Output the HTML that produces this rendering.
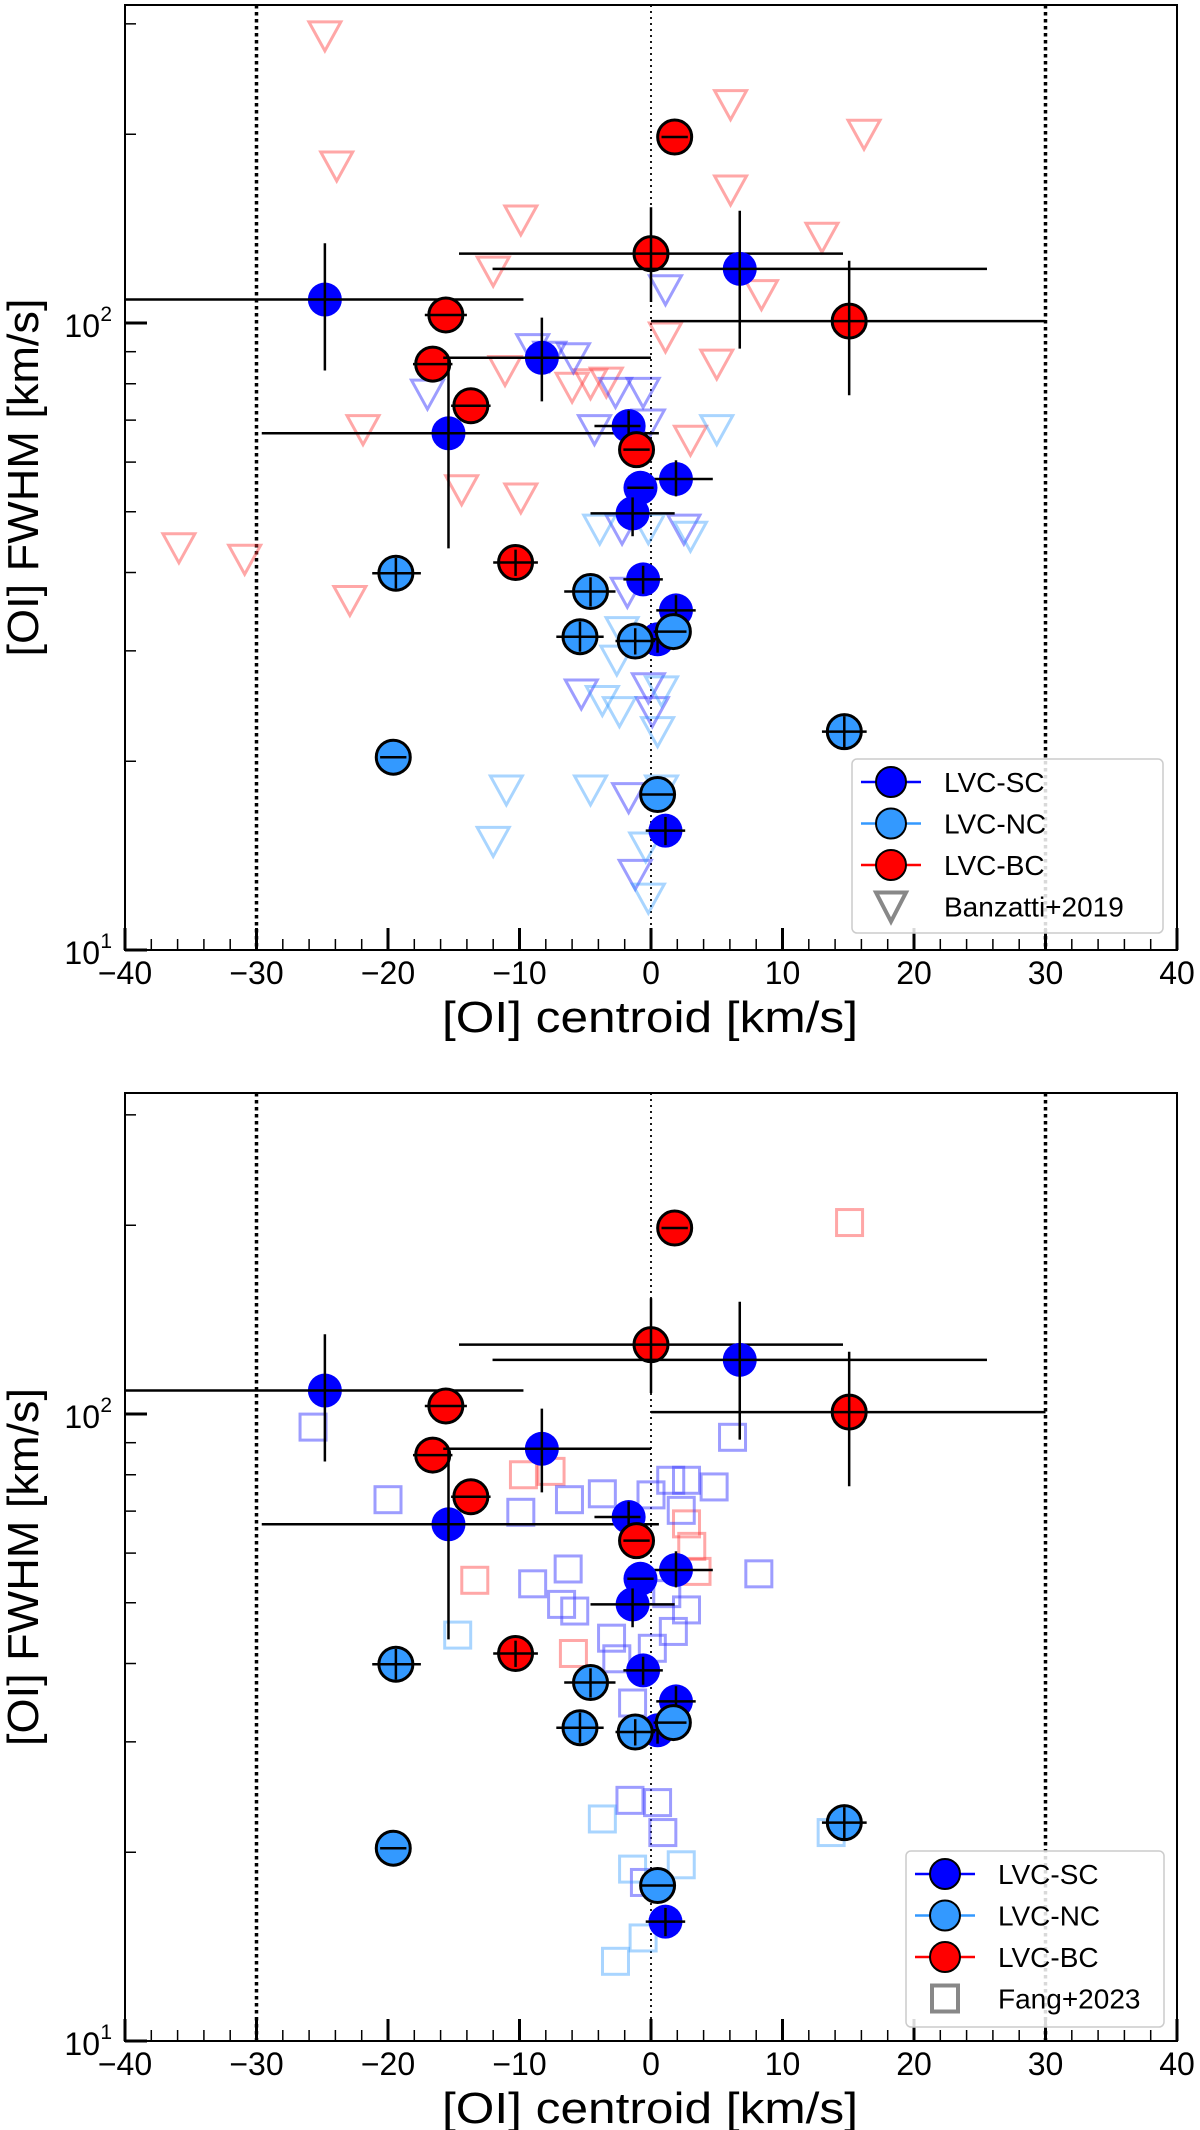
<!DOCTYPE html>
<html><head><meta charset="utf-8"><style>
html,body{margin:0;padding:0;background:#fff;}
svg{display:block;font-family:"Liberation Sans","DejaVu Sans",sans-serif;}
</style></head><body>
<svg id="fig" width="1200" height="2130" viewBox="0 0 1200 2130" xmlns="http://www.w3.org/2000/svg"></svg>
<script>
// shared LVC data
const ptX = [-24.8,-15.6,-16.6,-8.3,-13.7,-15.4,0,6.75,15.07,1.8,-1.7,-1.1,1.9,-0.8,-1.4,-10.3,-19.4,-0.6,-4.6,1.9,-5.4,0.5,1.7,-1.2,14.7,-19.6,0.5,1.1];
const ptY = [109,103,86,88,73.8,66.7,129,122,100.7,198,68.5,62.8,56.4,54.6,49.7,41.5,39.9,39,37.3,34.8,31.6,31.3,32.2,31.1,22.3,20.3,17.7,15.5];
const ptType = ["SC","BC","BC","SC","BC","SC","BC","SC","BC","BC","SC","BC","SC","SC","SC","BC","NC","SC","NC","SC","NC","SC","NC","NC","NC","NC","NC","SC"];
const xErrLo = [15.2,1.6,1.5,7.5,1.5,14.2,14.6,18.8,15.07,1,2.6,1,1.9,1,3.2,1.7,1.8,1.5,2,1.5,1.8,1.5,1.5,1.5,1.7,1,1.3,1.5];
const xErrHi = [15.1,1.6,1.5,8.3,1.5,16,14.6,18.8,14.93,1,0.9,1,2.8,1,3.2,1.7,1.9,1.5,1.9,1.5,1.8,1.5,1,1.5,1.7,1,1.3,1.5];
const yErrLo = [25,0,0,13,0,23,21,31,24,0,4,0,3.5,0,4,2,2.2,2,2,2,1.7,1.5,0,1.5,1.3,0,0,0.8];
const yErrHi = [25,0,0,14,0,21,24,29,25,0,4,0,4,0,3,2,2.3,2,2,2,1.8,1.5,0,1.5,1.3,0,0,0.8];
// Banzatti+2019 triangles
const triX = [-24.8,6.05,16.2,-23.9,6.05,-9.9,13,-12,8.4,1.1,5,-11.1,-6,-4.6,-3.4,-21.9,3,-14.4,-9.9,-35.9,-30.9,-22.9,
  1.1,-9,-7.7,-5.9,-17,-2.7,-0.6,-4.3,-0.2,-2.2,2.5,-1.8,-5.3,-0.2,0.1,-1.7,-1.2,
  5,-3.9,-0.2,3,-2.2,-2.6,-3.7,-2.4,0.8,0.5,-11,-4.6,0.8,-12,-0.4,-0.2];
const triY = [287,223,200,178,163,146,137,121,111,95,86,84,79,80,80.5,67.6,65,54.2,52.6,43.8,42,36.1,
  113,91,88.5,88,77,77.5,77.5,67.6,69,46.9,46.9,37.2,25.6,26.2,24,17.5,13.2,
  67.6,46.9,47,45.7,32.2,29,25,24,25.9,22.3,18,18,18,14.9,14.6,12.1];
const triType = ["BC","BC","BC","BC","BC","BC","BC","BC","BC","BC","BC","BC","BC","BC","BC","BC","BC","BC","BC","BC","BC","BC",
  "SC","SC","SC","SC","SC","SC","SC","SC","SC","SC","SC","SC","SC","SC","SC","SC","SC",
  "NC","NC","NC","NC","NC","NC","NC","NC","NC","NC","NC","NC","NC","NC","NC","NC"];
// Fang+2023 squares
const sqX = [15.1,-9.7,-7.6,2.7,3.1,3.5,-13.4,-5.9,
  -25.7,6.2,-20,-6.2,-3.7,0,1.5,2.7,4.8,-9.9,2.3,-6.3,-9,-6.8,-5.8,8.2,2.7,1.2,1.7,-3,0.1,-2.6,-1.4,-1.6,0.5,0.9,-0.5,
  -14.7,-3.7,13.7,-1.4,2.3,-0.6,-2.7];
const sqY = [202,80,81,66.8,61.5,56.1,54.3,41.5,
  95.3,91.8,73,73,74.6,74.3,78.4,78.4,76.5,69.7,70.2,56.6,53.6,49.7,48.5,55.6,48.7,51.7,45,43.9,42.3,40.7,34.6,24.2,24,21.5,17.9,
  44.4,22.6,21.5,18.8,19.1,14.6,13.4];
const sqType = ["BC","BC","BC","BC","BC","BC","BC","BC",
  "SC","SC","SC","SC","SC","SC","SC","SC","SC","SC","SC","SC","SC","SC","SC","SC","SC","SC","SC","SC","SC","SC","SC","SC","SC","SC","SC",
  "NC","NC","NC","NC","NC","NC","NC"];
const xTicks = [-40,-30,-20,-10,0,10,20,30,40];
const xTickLabels = ["\u221240","\u221230","\u221220","\u221210","0","10","20","30","40"];

const NS="http://www.w3.org/2000/svg";
const svg=document.getElementById('fig');
function el(tag,attrs,parent){const e=document.createElementNS(NS,tag);for(const k in attrs)e.setAttribute(k,attrs[k]);(parent||svg).appendChild(e);return e;}
const fill={SC:"#0000ff",NC:"#3399ff",BC:"#ff0000"};
const hollow={SC:"rgba(60,60,255,0.5)",NC:"rgba(40,150,255,0.4)",BC:"rgba(255,60,60,0.45)"};

function panel(top,bottom,kind,legendBox,name){
  const L=125,R=1177;
  const g=el('g',{});
  
  
  const sx=v=>L+(v+40)/80*(R-L);
  const lmin=1, lmax=1+(bottom-top)/627;
  const sy=v=>bottom-(Math.log10(v)-lmin)/(lmax-lmin)*(bottom-top);
  [-30,30].forEach(v=>{const l=el('line',{x1:sx(v),x2:sx(v),y1:top,y2:bottom,stroke:"#000","stroke-width":3.5,"stroke-dasharray":"3.5 3.5"},g);
    
    });
  const z=el('line',{x1:sx(0),x2:sx(0),y1:top,y2:bottom,stroke:"#000","stroke-width":1.8,"stroke-dasharray":"2 4"},g);
  
  
  const cg=el('g',{},g);
  
  
  const cx=kind==='tri'?triX:sqX, cy=kind==='tri'?triY:sqY, ct=kind==='tri'?triType:sqType;
  for(let i=0;i<cx.length;i++){
    const X=sx(cx[i]),Y=sy(cy[i]);let m;
    if(kind==='tri') m=el('polygon',{points:`${X-16},${Y-14} ${X+16},${Y-14} ${X},${Y+15}`,fill:"none",stroke:hollow[ct[i]],"stroke-width":3},cg);
    else m=el('rect',{x:X-13,y:Y-13,width:26,height:26,fill:"none",stroke:hollow[ct[i]],"stroke-width":3},cg);
    
    
  }
  const pg=el('g',{},g);
  
  
  for(let i=0;i<ptX.length;i++){
    const X=sx(ptX[i]),Y=sy(ptY[i]);
    const c=el('circle',{cx:X,cy:Y,r:17,fill:fill[ptType[i]],stroke:ptType[i]==='SC'?'none':'#000',"stroke-width":3},pg);
    
    
    const h=el('line',{x1:sx(ptX[i]-xErrLo[i]),x2:sx(ptX[i]+xErrHi[i]),y1:Y,y2:Y,stroke:"#000","stroke-width":2.5},pg);
    
    
    if(yErrLo[i]>0||yErrHi[i]>0){
      const v=el('line',{x1:X,x2:X,y1:sy(ptY[i]+yErrHi[i]),y2:sy(ptY[i]-yErrLo[i]),stroke:"#000","stroke-width":2.5},pg);
      
      
    }
  }
  const fr=el('rect',{x:L,y:top,width:R-L,height:bottom-top,fill:"none",stroke:"#000","stroke-width":2},g);
  
  
  for(let v=-40;v<=40;v+=2){
    const maj=v%10===0;
    el('line',{x1:sx(v),x2:sx(v),y1:bottom,y2:bottom-(maj?22:11),stroke:"#000","stroke-width":maj?3:1.5},g);
  }
  xTicks.forEach((v,i)=>{const t=el('text',{x:sx(v),y:bottom+34,"font-size":32,"text-anchor":"middle",fill:"#000"},g);t.textContent=xTickLabels[i];
    
    });
  [20,30,40,50,60,70,80,90,200,300].forEach(v=>{if(sy(v)>top)el('line',{x1:L,x2:L+11,y1:sy(v),y2:sy(v),stroke:"#000","stroke-width":1.5},g);});
  [10,100].forEach(v=>el('line',{x1:L,x2:L+22,y1:sy(v),y2:sy(v),stroke:"#000","stroke-width":3},g));
  [[100,"2"],[10,"1"]].forEach(([v,e])=>{const t=el('text',{x:100,y:sy(v)+14,"font-size":32,"text-anchor":"end",fill:"#000"},g);
    t.textContent="10";
    const s=el('text',{x:112,y:sy(v)-2,"font-size":21,"text-anchor":"end",fill:"#000"},g);s.textContent=e;});
  const xt=el('text',{x:650,y:bottom+82,"font-size":44,"text-anchor":"middle",textLength:416,lengthAdjust:"spacingAndGlyphs",fill:"#000"},g);
  xt.textContent="[OI] centroid [km/s]";
  
  
  const cyT=(top+bottom)/2;
  const yt=el('text',{x:0,y:0,"font-size":44,"text-anchor":"middle",textLength:358,lengthAdjust:"spacingAndGlyphs",fill:"#000",transform:`translate(38,${cyT}) rotate(-90)`},g);
  yt.textContent="[OI] FWHM [km/s]";
  
  
  const [bx,by,bw,bh]=legendBox;
  const lg=el('g',{},g);
  
  
  el('rect',{x:bx,y:by,width:bw,height:bh,rx:5,fill:"#fff","fill-opacity":0.85,stroke:"#ccc","stroke-width":1.5},lg);
  const labels=["LVC-SC","LVC-NC","LVC-BC",kind==='tri'?"Banzatti+2019":"Fang+2023"];
  const cols=["#0000ff","#3399ff","#ff0000"];
  labels.forEach((lab,i)=>{
    const ey=by+23+i*41.5, mx=bx+39;
    const e=el('g',{},lg);
    
    
    if(i<3){el('line',{x1:mx-30,x2:mx+30,y1:ey,y2:ey,stroke:cols[i],"stroke-width":2.5},e);
      el('circle',{cx:mx,cy:ey,r:15,fill:cols[i],stroke:"#000","stroke-width":2},e);}
    else if(kind==='tri') el('polygon',{points:`${mx-15},${ey-14} ${mx+15},${ey-14} ${mx},${ey+15}`,fill:"none",stroke:"#888","stroke-width":4},e);
    else el('rect',{x:mx-13,y:ey-13,width:26,height:26,fill:"none",stroke:"#888","stroke-width":4},e);
    const t=el('text',{x:bx+92,y:ey+10,"font-size":28,fill:"#000"},e);t.textContent=lab;
  });
}
panel(5,950,'tri',[852,759,311,174],'top-panel');
panel(1093,2041,'sq',[906,1851,258,176],'bottom-panel');
</script>
</body></html>
